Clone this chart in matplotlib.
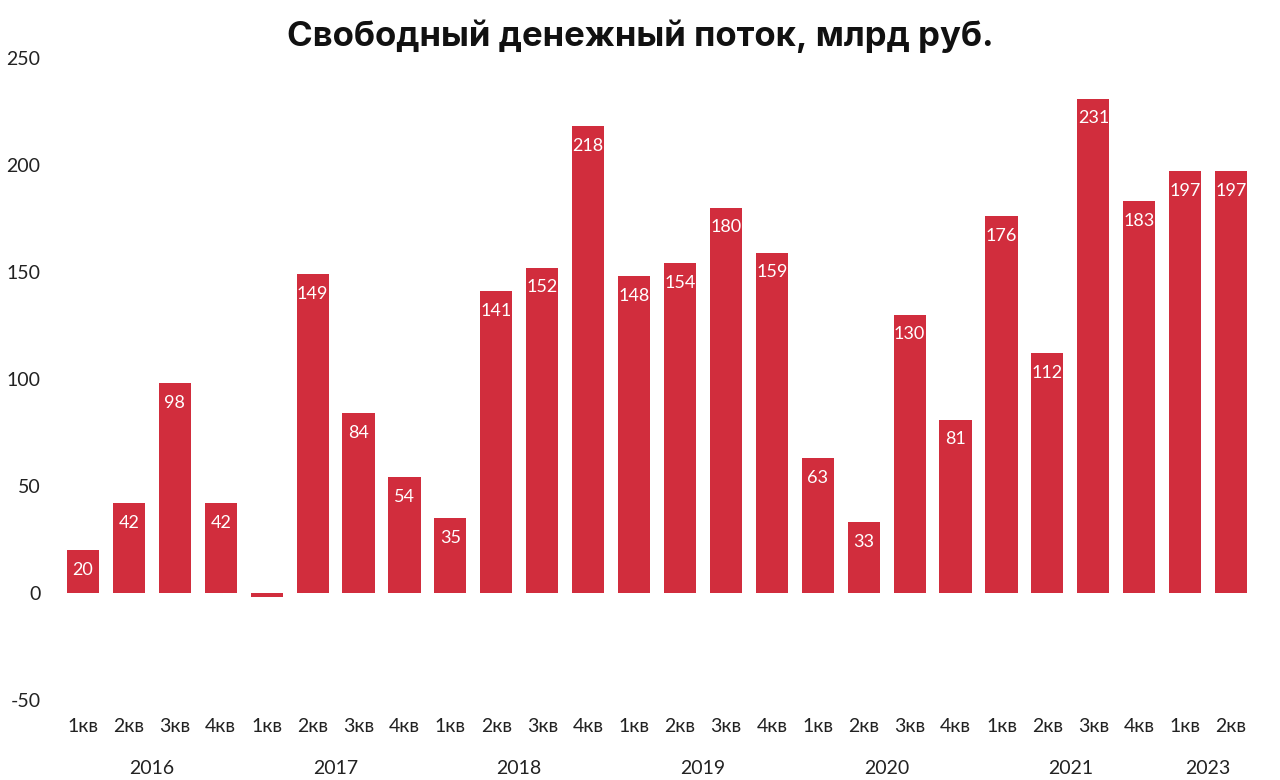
import matplotlib
matplotlib.use("Agg")
import matplotlib.pyplot as plt
from matplotlib.transforms import blended_transform_factory

quarters = ["1кв", "2кв", "3кв", "4кв"] * 6 + ["1кв", "2кв"]
values = [20, 42, 98, 42,
          -2, 149, 84, 54,
          35, 141, 152, 218,
          148, 154, 180, 159,
          63, 33, 130, 81,
          176, 112, 231, 183,
          197, 197]
years = ["2016", "2017", "2018", "2019", "2020", "2021", "2023"]
year_pos = [1.5, 5.5, 9.5, 13.5, 17.5, 21.5, 24.5]
title = "Свободный денежный поток, млрд руб."
yticks = [-50, 0, 50, 100, 150, 200, 250]

RED = "#D12D3D"
plt.rcParams["font.family"] = ["Lato", "DejaVu Sans"]

fig = plt.figure(figsize=(12.8, 7.8), dpi=100)
ax = fig.add_axes([60 / 1280, 80 / 780, 1195 / 1280, 642 / 780])

x = list(range(len(values)))
bars = ax.bar(x, values, width=0.7, color=RED)

for xi, v in zip(x, values):
    if v > 10:
        ax.annotate(str(v), (xi, v), xytext=(0, -14), textcoords="offset points",
                    ha="center", va="center", color="white", fontsize=13)

ax.set_xlim(-0.5, 25.52)
ax.set_ylim(-50, 250)
ax.set_yticks(yticks)
ax.set_yticklabels([str(t) for t in yticks], fontsize=14, color="#222222")
ax.set_xticks(x)
ax.set_xticklabels(quarters, fontsize=14, color="#222222")
ax.tick_params(axis="y", length=0, pad=14)
ax.tick_params(axis="x", length=0, pad=13)
for s in ax.spines.values():
    s.set_visible(False)

trans = blended_transform_factory(ax.transData, fig.transFigure)
for yp, yl in zip(year_pos, years):
    ax.text(yp, 1 - 768 / 780, yl, transform=trans, ha="center", va="center",
            fontsize=14, color="#222222")

fig.text(0.5, 1 - 36 / 780, title, ha="center", va="center", fontsize=25,
         fontweight="bold", family=["Inter", "DejaVu Sans"], color="#111111")

fig.savefig("out.png", dpi=100, facecolor="white")
